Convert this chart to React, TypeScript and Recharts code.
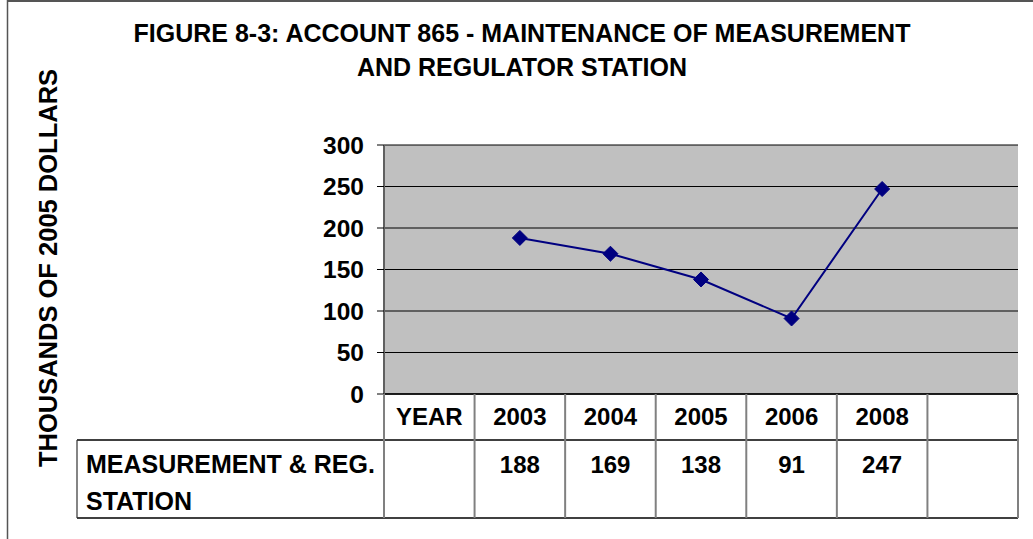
import React from 'react';
import { LineChart, Line, XAxis, YAxis, CartesianGrid } from 'recharts';

const YEARS = ['YEAR', '2003', '2004', '2005', '2006', '2008', ''];
const MEASUREMENT = [null, 188, 169, 138, 91, 247, null];
const Y_TICKS = [0, 50, 100, 150, 200, 250, 300];
const ROW_LABEL = ['MEASUREMENT & REG.', 'STATION'];
const TITLE = ['FIGURE 8-3: ACCOUNT 865 - MAINTENANCE OF MEASUREMENT', 'AND REGULATOR STATION'];
const Y_TITLE = 'THOUSANDS OF 2005 DOLLARS';

const data = YEARS.map((year, i) => ({ year, value: MEASUREMENT[i] }));

const W = 1033;
const H = 539;
const PLOT_LEFT = 384;
const PLOT_RIGHT = 1018;
const PLOT_TOP = 145;
const PLOT_BOTTOM = 394;
const ROW_LINE = 440;
const TABLE_BOTTOM = 518;
const LABEL_LEFT = 77;
const BAND = (PLOT_RIGHT - PLOT_LEFT) / YEARS.length;
const FONT = '"Liberation Sans", Arial, sans-serif';
const NAVY = '#000080';

const textStyle = { fontFamily: FONT, fontWeight: 700, fontSize: 24, fill: '#000' };

// x axis tick doubles as the data table under the plot
const TableTick = (props: any) => {
  const { x, payload } = props;
  const i = payload.index;
  const v = MEASUREMENT[i];
  const left = x - BAND / 2;
  return (
    <g>
      {i === 0 && (
        <g>
          <line x1={LABEL_LEFT} x2={PLOT_RIGHT} y1={ROW_LINE} y2={ROW_LINE} stroke="#000" strokeWidth={1.5} />
          <line x1={LABEL_LEFT} x2={PLOT_RIGHT} y1={TABLE_BOTTOM} y2={TABLE_BOTTOM} stroke="#000" strokeWidth={1.5} />
          <line x1={LABEL_LEFT} x2={LABEL_LEFT} y1={ROW_LINE} y2={TABLE_BOTTOM} stroke="#333" strokeWidth={1.2} />
          <line x1={left} x2={left} y1={PLOT_BOTTOM} y2={TABLE_BOTTOM} stroke="#808080" strokeWidth={2} />
          {ROW_LABEL.map((t, k) => (
            <text key={k} x={86} y={473 + k * 37} style={{ ...textStyle, fontSize: 25 }}>{t}</text>
          ))}
        </g>
      )}
      <line x1={left + BAND} x2={left + BAND} y1={PLOT_BOTTOM} y2={TABLE_BOTTOM} stroke="#808080" strokeWidth={2} />
      <text x={x} y={425} textAnchor="middle" style={textStyle}>{payload.value}</text>
      {v != null && <text x={x} y={473} textAnchor="middle" style={textStyle}>{v}</text>}
    </g>
  );
};

const Diamond = (props: any) => {
  const { cx, cy, index } = props;
  if (cx == null || cy == null || MEASUREMENT[index] == null) return <g key={index} />;
  const r = 7.5;
  return (
    <path
      key={index}
      d={`M${cx},${cy - r}L${cx + r},${cy}L${cx},${cy + r}L${cx - r},${cy}Z`}
      fill={NAVY}
      stroke={NAVY}
      strokeWidth={1}
    />
  );
};

export default function App() {
  return (
    <div style={{ position: 'absolute', left: 0, top: 0, width: W, height: H, background: '#fff' }}>
      <LineChart
        width={W}
        height={H}
        data={data}
        margin={{ top: PLOT_TOP, right: W - PLOT_RIGHT, bottom: 0, left: 0 }}
      >
        <CartesianGrid vertical={false} stroke="#000" strokeOpacity={1} fill="#c0c0c0" fillOpacity={1} />
        <XAxis
          dataKey="year"
          type="category"
          scale="band"
          interval={0}
          height={H - PLOT_BOTTOM}
          axisLine={{ stroke: '#000', strokeWidth: 1.5 }}
          tickLine={false}
          tick={<TableTick />}
        />
        <XAxis
          xAxisId="top"
          orientation="top"
          dataKey="year"
          scale="band"
          height={0}
          tick={false}
          tickLine={false}
          axisLine={{ stroke: '#808080', strokeWidth: 2 }}
        />
        <YAxis
          width={PLOT_LEFT}
          domain={[0, 300]}
          ticks={Y_TICKS}
          interval={0}
          tickSize={7}
          tickMargin={13}
          tickLine={{ stroke: '#000' }}
          axisLine={{ stroke: '#606060', strokeWidth: 2 }}
          tick={{ ...textStyle, fontSize: 24.5 }}
        />
        <YAxis
          yAxisId="right"
          orientation="right"
          width={0}
          domain={[0, 300]}
          tick={false}
          tickLine={false}
          axisLine={{ stroke: '#808080', strokeWidth: 2.5 }}
        />
        <Line
          dataKey="value"
          stroke={NAVY}
          strokeWidth={2}
          dot={<Diamond />}
          activeDot={false}
          isAnimationActive={false}
        />
      </LineChart>
      <div
        style={{
          position: 'absolute',
          left: 0,
          top: 16,
          width: 1044,
          textAlign: 'center',
          fontFamily: FONT,
          fontWeight: 700,
          fontSize: 25,
          lineHeight: '34px',
          color: '#000',
        }}
      >
        {TITLE.map((t, k) => (
          <div key={k}>{t}</div>
        ))}
      </div>
      <svg width={W} height={H} style={{ position: 'absolute', left: 0, top: 0, pointerEvents: 'none' }}>
        <line x1={7} x2={W} y1={1} y2={1} stroke="#555" strokeWidth={2} />
        <line x1={7.5} x2={7.5} y1={0} y2={H} stroke="#555" strokeWidth={1.5} />
        <text
          x={57}
          y={268}
          transform="rotate(-90 57 268)"
          textAnchor="middle"
          style={{ fontFamily: FONT, fontWeight: 700, fontSize: 25.5, fill: '#000' }}
        >
          {Y_TITLE}
        </text>
      </svg>
    </div>
  );
}
